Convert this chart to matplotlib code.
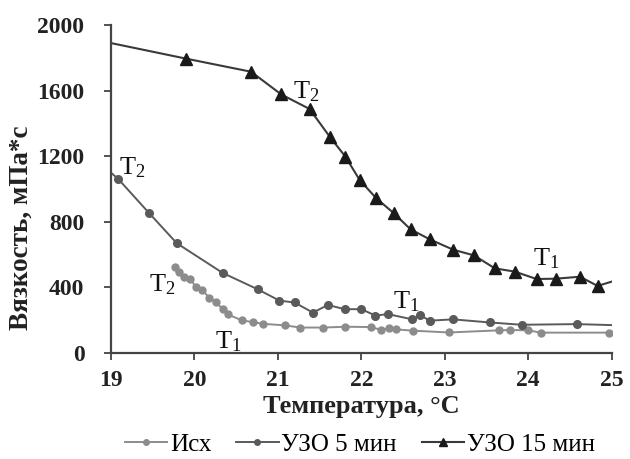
import matplotlib
matplotlib.use("Agg")
import matplotlib.pyplot as plt
from matplotlib.lines import Line2D

plt.rcParams['font.family'] = ['Liberation Serif', 'DejaVu Serif']
plt.rcParams['mathtext.default'] = 'regular'

# Исходный образец
t_isx = [19.77, 19.82, 19.87, 19.95, 20.02, 20.09, 20.18, 20.26, 20.34, 20.40,
         20.57, 20.70, 20.82, 21.09, 21.27, 21.54, 21.81, 22.12, 22.24, 22.33,
         22.41, 22.62, 23.05, 23.65, 23.78, 24.00, 24.15, 24.97]
v_isx = [525, 493, 462, 453, 400, 384, 338, 310, 266, 235,
         199, 188, 178, 168, 155, 155, 160, 158, 140, 150,
         144, 136, 125, 138, 140, 138, 124, 124]

# УЗО 5 мин
t_5 = [19.00, 19.09, 19.46, 19.79, 20.34, 20.76, 21.02, 21.20, 21.42, 21.60,
       21.80, 22.00, 22.17, 22.32, 22.61, 22.70, 22.82, 23.10, 23.54, 23.92,
       24.58, 25.00]
v_5 = [1100, 1060, 852, 669, 488, 388, 319, 308, 246, 293,
       267, 267, 228, 237, 205, 232, 197, 205, 186, 172,
       176, 170]

# УЗО 15 мин
t_15 = [19.00, 19.90, 20.68, 21.04, 21.38, 21.62, 21.81, 21.98, 22.18, 22.39,
        22.59, 22.82, 23.10, 23.35, 23.60, 23.84, 24.10, 24.33, 24.62, 24.83,
        25.00]
v_15 = [1890, 1795, 1715, 1577, 1488, 1320, 1197, 1055, 943, 852,
        754, 693, 630, 595, 516, 496, 451, 453, 465, 409,
        435]

names = ["Исх", "УЗО 5 мин", "УЗО 15 мин"]

# подписи точек перехода
marks = ["$T_2$", "$T_1$", "$T_2$", "$T_1$", "$T_2$", "$T_1$"]
marks_x = [19.46, 20.25, 19.10, 22.38, 21.18, 24.06]
marks_y = [374, 29, 1090, 272, 1553, 537]

c_isx = "#8c8c8c"
c_5 = "#5a5a5a"
c_15 = "#3a3a3a"

fig = plt.figure(figsize=(6.3, 4.59), dpi=100)
ax = fig.add_axes([0.176, 0.231, 0.795, 0.7145])

ax.plot(t_isx, v_isx, color=c_isx, lw=1.4, marker="o", ms=5, mfc=c_isx, mec=c_isx)
ax.plot(t_5, v_5, color=c_5, lw=1.4)
ax.plot(t_5[1:-1], v_5[1:-1], ls="none", marker="o", ms=5.5, mfc=c_5, mec=c_5)
ax.plot(t_15, v_15, color=c_15, lw=1.5)
ax.plot(t_15[1:-1], v_15[1:-1], ls="none", marker="^", ms=8, mfc="#1a1a1a", mec="#1a1a1a")

for s, x, y in zip(marks, marks_x, marks_y):
    ax.text(x, y, s, fontsize=19, ha="left", va="baseline", color="#111111")

ax.set_xlim(19, 25)
ax.set_ylim(0, 2000)
ax.set_xticks(range(19, 26))
ax.set_yticks(range(0, 2001, 400))
for sp in ["top", "right"]:
    ax.spines[sp].set_visible(False)
for sp in ["left", "bottom"]:
    ax.spines[sp].set_color("#444444")
    ax.spines[sp].set_linewidth(1.6)
ax.tick_params(direction="out", length=5, width=1.3, color="#444444",
               labelsize=17)
ax.tick_params(axis="x", pad=7)
ax.tick_params(axis="y", pad=14)
for lb in ax.get_xticklabels() + ax.get_yticklabels():
    lb.set_fontweight("bold")
    lb.set_color("#222222")

ax.set_xlabel("Температура, °C", fontsize=19, fontweight="bold", color="#222222")
ax.xaxis.set_label_coords(0.5, -0.128)
ax.set_ylabel("Вязкость, мПа*с", fontsize=19.5, fontweight="bold", color="#222222")
ax.yaxis.set_label_coords(-0.155, 0.381)

handles = [
    Line2D([], [], color=c_isx, lw=1.4, marker="o", ms=4, mfc=c_isx, mec=c_isx),
    Line2D([], [], color=c_5, lw=1.4, marker="o", ms=4, mfc=c_5, mec=c_5),
    Line2D([], [], color=c_15, lw=1.5, marker="^", ms=6, mfc="#1a1a1a", mec="#1a1a1a"),
]
fig.legend(handles, names, loc="center left", bbox_to_anchor=(0.198, 0.032), ncol=3,
           frameon=False, fontsize=18, handlelength=1.7, columnspacing=1.0,
           handletextpad=0.1, borderpad=0, borderaxespad=0)

fig.savefig("out.png", dpi=100)
